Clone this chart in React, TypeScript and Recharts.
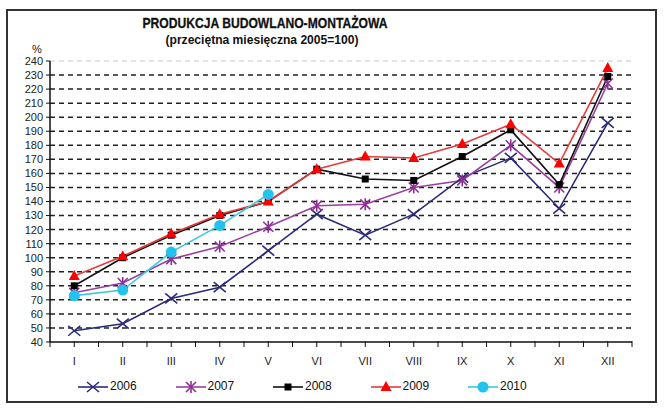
import React from "react";
import { LineChart, Line, XAxis, YAxis, ReferenceLine } from "recharts";

const months = ["I", "II", "III", "IV", "V", "VI", "VII", "VIII", "IX", "X", "XI", "XII"];
const v2006 = [48, 53, 71, 79, 105, 131, 116, 131, 157, 171, 135, 196];
const v2007 = [75, 82, 99, 108, 122, 137, 138, 150, 155, 180, 150, 224];
const v2008 = [80, 100, 116, 130, 140, 163, 156, 155, 172, 191, 152, 229];
const v2009 = [87, 101, 117, 131, 140, 163, 172, 171, 181, 195, 167, 235];
const v2010 = [73, 77, 104, 123, 145];
const yTicks = [40, 50, 60, 70, 80, 90, 100, 110, 120, 130, 140, 150, 160, 170, 180, 190, 200, 210, 220, 230, 240];
const gridLines = [50, 60, 70, 80, 90, 100, 110, 120, 130, 140, 150, 160, 170, 180, 190, 200, 210, 220, 230];

const FONT = "'Liberation Sans', Arial, sans-serif";
const HALF_BAND = 24.25;

const data = months.map((m, i) => ({
  m,
  y2006: v2006[i],
  y2007: v2007[i],
  y2008: v2008[i],
  y2009: v2009[i],
  y2010: v2010[i] ?? null,
}));

type Kind = "x" | "star" | "square" | "tri" | "circle";

const series: { key: string; name: string; line: string; mark: string; kind: Kind }[] = [
  { key: "y2006", name: "2006", line: "#2b2b78", mark: "#2b2b78", kind: "x" },
  { key: "y2007", name: "2007", line: "#9a3fa0", mark: "#8f2f96", kind: "star" },
  { key: "y2008", name: "2008", line: "#111111", mark: "#000000", kind: "square" },
  { key: "y2009", name: "2009", line: "#e83a3a", mark: "#ff0000", kind: "tri" },
  { key: "y2010", name: "2010", line: "#3cc8e0", mark: "#22c4ee", kind: "circle" },
];

function Marker({ cx, cy, kind, color }: { cx: number; cy: number; kind: Kind; color: string }) {
  if (cx == null || cy == null || isNaN(cx) || isNaN(cy)) return null;
  switch (kind) {
    case "x":
      return (
        <g stroke={color} strokeWidth={1.6}>
          <line x1={cx - 6} y1={cy - 5} x2={cx + 6} y2={cy + 5} />
          <line x1={cx - 6} y1={cy + 5} x2={cx + 6} y2={cy - 5} />
        </g>
      );
    case "star":
      return (
        <g stroke={color} strokeWidth={1.6}>
          <line x1={cx - 5} y1={cy - 5} x2={cx + 5} y2={cy + 5} />
          <line x1={cx - 5} y1={cy + 5} x2={cx + 5} y2={cy - 5} />
          <line x1={cx} y1={cy - 6} x2={cx} y2={cy + 6} />
        </g>
      );
    case "square":
      return <rect x={cx - 3.5} y={cy - 3.5} width={7} height={7} fill={color} />;
    case "tri":
      return <polygon points={`${cx},${cy - 6} ${cx + 5.5},${cy + 4} ${cx - 5.5},${cy + 4}`} fill={color} />;
    case "circle":
      return <circle cx={cx} cy={cy} r={5.5} fill={color} />;
  }
}

function MonthTick(props: any) {
  const { x, y, payload, index } = props;
  const last = index === months.length - 1;
  return (
    <g>
      <line x1={x} y1={y - 1} x2={x} y2={y + 5} stroke="#111" strokeWidth={1} />
      <line x1={x - HALF_BAND} y1={y - 1} x2={x - HALF_BAND} y2={y + 5} stroke="#111" strokeWidth={1} />
      {last && <line x1={x + HALF_BAND} y1={y - 1} x2={x + HALF_BAND} y2={y + 5} stroke="#111" strokeWidth={1} />}
      <text x={x} y={y + 23} textAnchor="middle" fontSize={11} fontFamily={FONT} fill="#222">
        {payload.value}
      </text>
    </g>
  );
}

function ChartLegend() {
  return (
    <div style={{ position: "absolute", left: 0, top: 377, width: 664, height: 20 }}>
      {series.map((s, i) => {
        const left = 78 + i * 97.5;
        return (
          <div key={s.key} style={{ position: "absolute", left, top: 0 }}>
            <svg width={32} height={20} style={{ position: "absolute", left: 0, top: 0 }}>
              <line x1={0} y1={10} x2={30} y2={10} stroke={s.line} strokeWidth={1.6} />
              <Marker cx={15} cy={10} kind={s.kind} color={s.mark} />
            </svg>
            <span
              style={{
                position: "absolute",
                left: 32,
                top: 2,
                fontFamily: FONT,
                fontSize: 12,
                color: "#111",
                whiteSpace: "nowrap",
              }}
            >
              {s.name}
            </span>
          </div>
        );
      })}
    </div>
  );
}

export default function App() {
  return (
    <div style={{ position: "absolute", left: 0, top: 0, width: 664, height: 410, background: "#fff" }}>
      <LineChart
        width={664}
        height={410}
        data={data}
        margin={{ top: 61, right: 32, bottom: 38, left: 10 }}
      >
        {gridLines.map((g) => (
          <ReferenceLine key={g} y={g} stroke="#222" strokeWidth={1.5} strokeDasharray="5 4" />
        ))}
        <ReferenceLine y={240} stroke="#ddd" strokeWidth={1.5} strokeDasharray="5 4" />
        <XAxis
          dataKey="m"
          padding={{ left: HALF_BAND, right: HALF_BAND }}
          height={30}
          tickLine={false}
          tickSize={0}
          tickMargin={0}
          interval={0}
          axisLine={{ stroke: "#111", strokeWidth: 1.5 }}
          tick={<MonthTick />}
        />
        <YAxis
          domain={[40, 240]}
          ticks={yTicks}
          interval={0}
          width={40}
          tickSize={4}
          tickMargin={3}
          axisLine={{ stroke: "#111", strokeWidth: 1.5 }}
          tickLine={{ stroke: "#111" }}
          tick={{ fontSize: 11, fontFamily: FONT, fill: "#222" }}
        />
        {series.map((s) => (
          <Line
            key={s.key}
            dataKey={s.key}
            name={s.name}
            stroke={s.line}
            strokeWidth={1.6}
            isAnimationActive={false}
            connectNulls={false}
            dot={(p: any) => <Marker key={`${s.key}-${p.index}`} cx={p.cx} cy={p.cy} kind={s.kind} color={s.mark} />}
            activeDot={false}
          />
        ))}
      </LineChart>
      <ChartLegend />
      <svg
        width={664}
        height={410}
        style={{ position: "absolute", left: 0, top: 0, pointerEvents: "none" }}
      >
        <rect x={7} y={10} width={649} height={392} fill="none" stroke="#333" strokeWidth={2} />
        <text x={265} y={28} textAnchor="middle" fontSize={15} fontWeight="bold" fontFamily={FONT} textLength={245} lengthAdjust="spacingAndGlyphs" fill="#111" stroke="#111" strokeWidth={0.3}>
          PRODUKCJA BUDOWLANO-MONTAŻOWA
        </text>
        <text x={262} y={44} textAnchor="middle" fontSize={13} fontWeight="bold" fontFamily={FONT} textLength={193} lengthAdjust="spacingAndGlyphs" fill="#111">
          (przeciętna miesięczna 2005=100)
        </text>
        <text x={37} y={53} textAnchor="middle" fontSize={11} fontFamily={FONT} fill="#222">
          %
        </text>
      </svg>
    </div>
  );
}
